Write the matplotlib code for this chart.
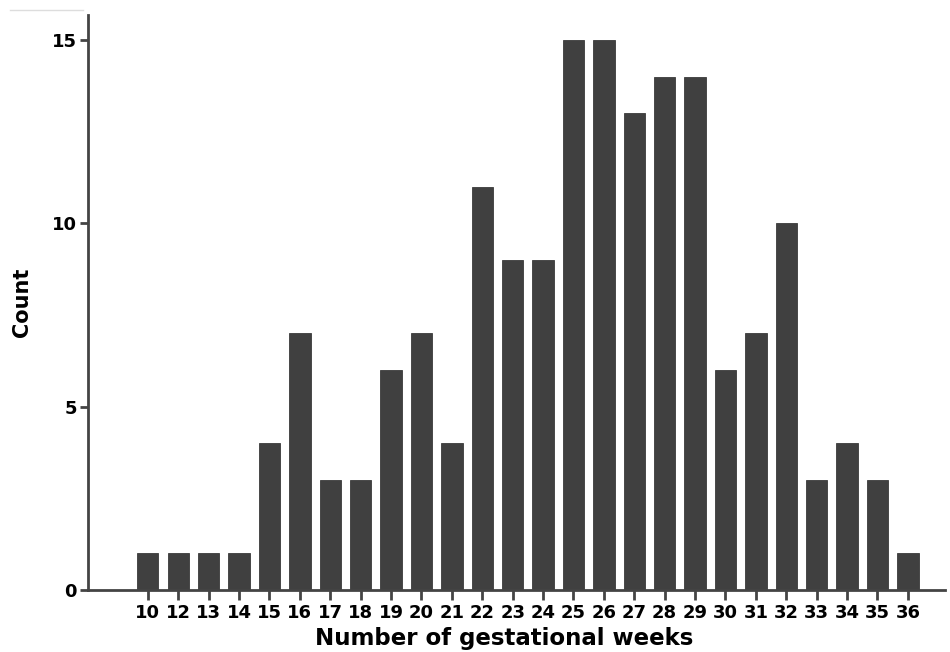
import matplotlib
matplotlib.use("Agg")
import matplotlib.pyplot as plt
from matplotlib.lines import Line2D

weeks = ["10", "12", "13", "14", "15", "16", "17", "18", "19", "20", "21", "22", "23",
         "24", "25", "26", "27", "28", "29", "30", "31", "32", "33", "34", "35", "36"]
counts = [1, 1, 1, 1, 4, 7, 3, 3, 6, 7, 4, 11, 9, 9, 15, 15, 13, 14, 14, 6, 7, 10, 3, 4, 3, 1]
y_ticks = [0, 5, 10, 15]

plt.rcParams['font.family'] = ['DejaVu Sans']

fig = plt.figure(figsize=(9.5, 6.52), dpi=100)
ax = fig.add_axes([0.0926, 0.0951, 0.9021, 0.8819])

x = list(range(len(weeks)))
ax.bar(x, counts, width=0.7, color='#404040', edgecolor='#3a3a3a', linewidth=0.6)

ax.set_xlim(-1.97, 26.22)
ax.set_ylim(0, 15.68)
ax.set_xticks(x)
ax.set_xticklabels(weeks, fontsize=13, fontweight='bold')
ax.set_yticks(y_ticks)
ax.set_yticklabels([str(v) for v in y_ticks], fontsize=13, fontweight='bold')

for s in ['top', 'right']:
    ax.spines[s].set_visible(False)
for s in ['left', 'bottom']:
    ax.spines[s].set_color('#444444')
    ax.spines[s].set_linewidth(2)

ax.tick_params(axis='x', direction='out', length=7, width=2, color='#444444', pad=3)
ax.tick_params(axis='y', direction='out', length=6, width=2, color='#444444', pad=2)

ax.set_xlabel('Number of gestational weeks', fontsize=16.5, fontweight='bold')
ax.xaxis.set_label_coords(0.486, -0.0965)
ax.xaxis.label.set_va('baseline')
ax.set_ylabel('Count', fontsize=15, fontweight='bold', labelpad=14)

fig.add_artist(Line2D([0.011, 0.087], [0.985, 0.985], color='#dddddd', linewidth=1))

fig.savefig('out.png', dpi=100)
